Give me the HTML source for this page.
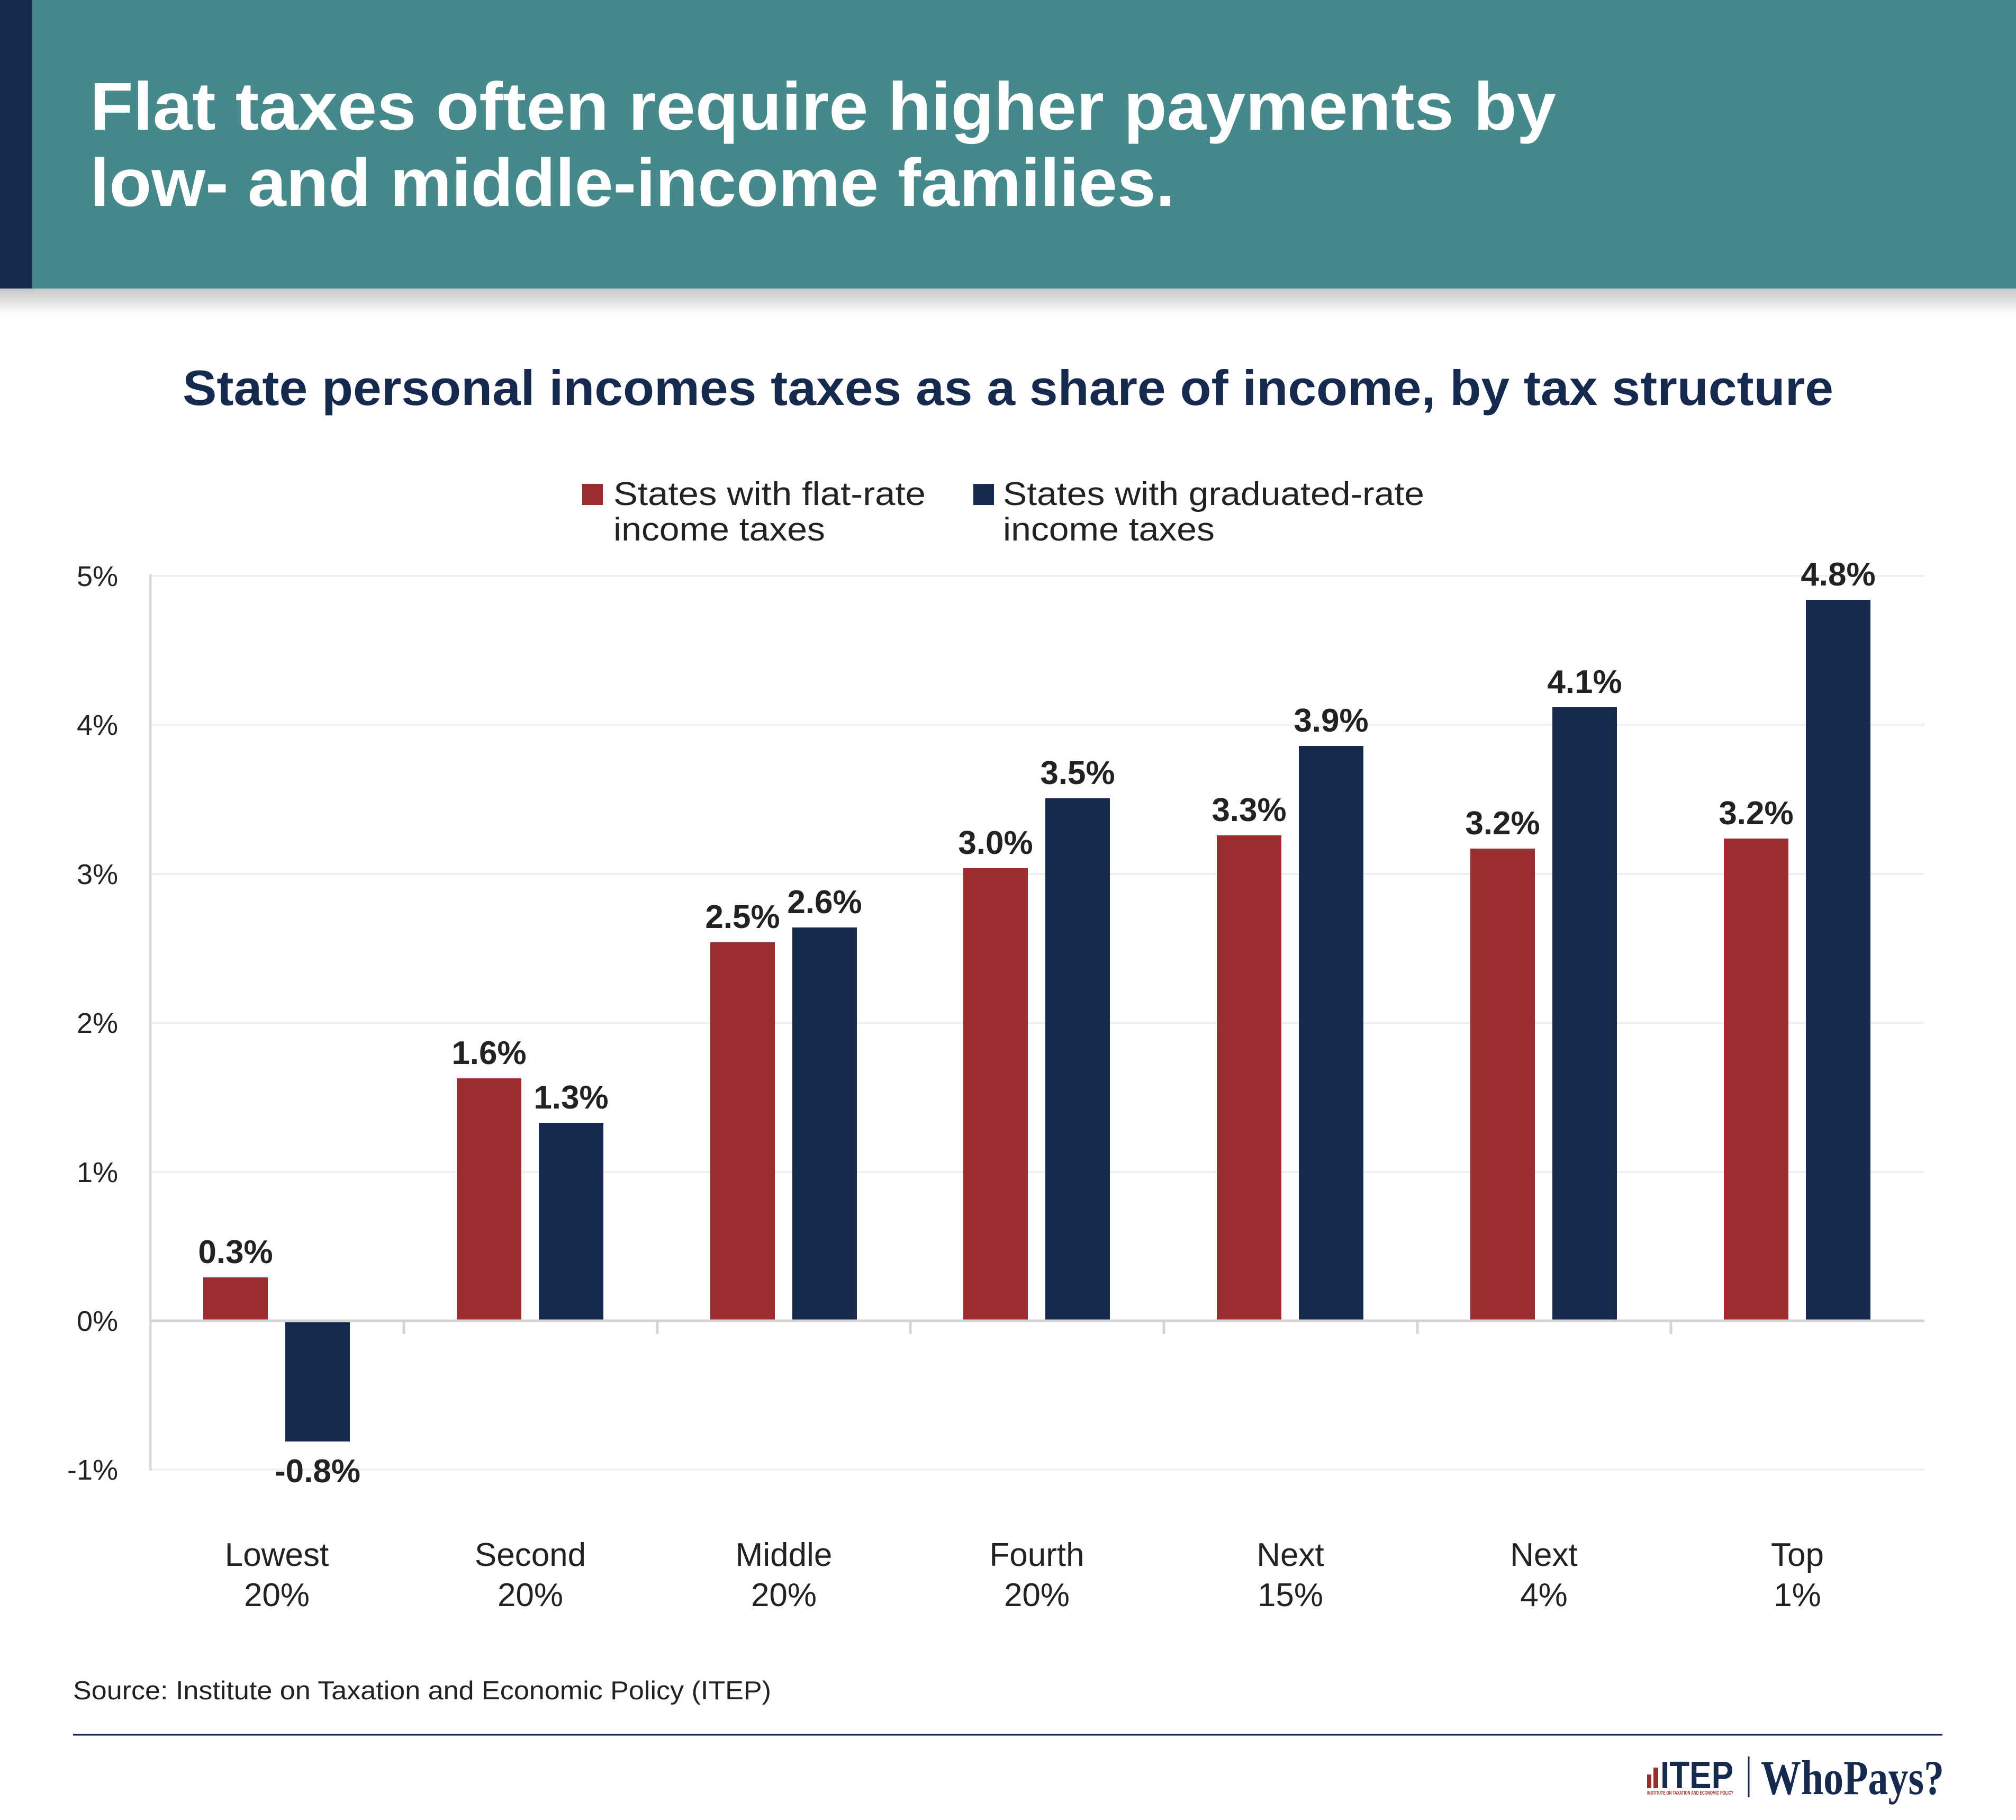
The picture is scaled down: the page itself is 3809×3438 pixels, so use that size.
<!DOCTYPE html>
<html><head><meta charset="utf-8"><style>
html,body{margin:0;padding:0;background:#fff;}
svg{display:block;}
</style></head><body>
<svg width="3809" height="3438" viewBox="0 0 3809 3438" xmlns="http://www.w3.org/2000/svg" font-family="Liberation Sans, Arial, sans-serif">
<defs>
<linearGradient id="sh" x1="0" y1="0" x2="0" y2="1">
<stop offset="0" stop-color="#000" stop-opacity="0.22"/>
<stop offset="1" stop-color="#000" stop-opacity="0"/>
</linearGradient>
</defs>
<rect x="0" y="0" width="3809" height="3438" fill="#fff"/>
<rect x="0" y="545" width="3809" height="50" fill="url(#sh)"/>
<rect x="0" y="0" width="3809" height="545" fill="#46898b"/>
<rect x="0" y="0" width="61" height="545" fill="#152a4e"/>
<text x="170" y="245" font-size="128" font-weight="bold" fill="#fff" textLength="2770" lengthAdjust="spacingAndGlyphs">Flat taxes often require higher payments by</text>
<text x="170" y="389" font-size="128" font-weight="bold" fill="#fff" textLength="2050" lengthAdjust="spacingAndGlyphs">low- and middle-income families.</text>
<text x="345" y="765" font-size="94" fill="#152a4e" font-weight="bold" textLength="3119" lengthAdjust="spacingAndGlyphs">State personal incomes taxes as a share of income, by tax structure</text>
<rect x="1100" y="914" width="39" height="40" fill="#9b2d2e"/>
<text x="1159" y="954" font-size="62" fill="#222" textLength="590" lengthAdjust="spacingAndGlyphs">States with flat-rate</text>
<text x="1159" y="1021" font-size="62" fill="#222" textLength="400" lengthAdjust="spacingAndGlyphs">income taxes</text>
<rect x="1839" y="914" width="39" height="40" fill="#152a4e"/>
<text x="1895" y="954" font-size="62" fill="#222" textLength="796" lengthAdjust="spacingAndGlyphs">States with graduated-rate</text>
<text x="1895" y="1021" font-size="62" fill="#222" textLength="400" lengthAdjust="spacingAndGlyphs">income taxes</text>
<g stroke="#efefef" stroke-width="4">
<line x1="284" y1="1088" x2="3636" y2="1088"/>
<line x1="284" y1="1369" x2="3636" y2="1369"/>
<line x1="284" y1="1651" x2="3636" y2="1651"/>
<line x1="284" y1="1932" x2="3636" y2="1932"/>
<line x1="284" y1="2214" x2="3636" y2="2214"/>
<line x1="284" y1="2776" x2="3636" y2="2776"/>
</g>
<line x1="284" y1="1085" x2="284" y2="2778" stroke="#dadada" stroke-width="5"/>
<g font-size="54" fill="#222" text-anchor="end">
<text x="223" y="1107">5%</text>
<text x="223" y="1388">4%</text>
<text x="223" y="1670">3%</text>
<text x="223" y="1951">2%</text>
<text x="223" y="2233">1%</text>
<text x="223" y="2514">0%</text>
<text x="223" y="2795">-1%</text>
</g>
<g fill="#9b2d2e">
<rect x="384" y="2413" width="122" height="82"/>
<rect x="863" y="2037" width="122" height="458"/>
<rect x="1342" y="1780" width="122" height="715"/>
<rect x="1820" y="1640" width="122" height="855"/>
<rect x="2299" y="1578" width="122" height="917"/>
<rect x="2778" y="1603" width="122" height="892"/>
<rect x="3257" y="1584" width="122" height="911"/>
</g>
<g fill="#152a4e">
<rect x="539" y="2495" width="122" height="228"/>
<rect x="1018" y="2121" width="122" height="374"/>
<rect x="1497" y="1752" width="122" height="743"/>
<rect x="1975" y="1508" width="122" height="987"/>
<rect x="2454" y="1409" width="122" height="1086"/>
<rect x="2933" y="1336" width="122" height="1159"/>
<rect x="3412" y="1133" width="122" height="1362"/>
</g>
<line x1="284" y1="2495" x2="3636" y2="2495" stroke="#d5d5d5" stroke-width="5"/>
<g stroke="#d5d5d5" stroke-width="5">
<line x1="763" y1="2495" x2="763" y2="2520"/>
<line x1="1242" y1="2495" x2="1242" y2="2520"/>
<line x1="1720" y1="2495" x2="1720" y2="2520"/>
<line x1="2199" y1="2495" x2="2199" y2="2520"/>
<line x1="2678" y1="2495" x2="2678" y2="2520"/>
<line x1="3157" y1="2495" x2="3157" y2="2520"/>
</g>
<g font-size="62" font-weight="bold" fill="#222" text-anchor="middle">
<text x="445" y="2386">0.3%</text>
<text x="924" y="2010">1.6%</text>
<text x="1403" y="1753">2.5%</text>
<text x="1881" y="1613">3.0%</text>
<text x="2360" y="1551">3.3%</text>
<text x="2839" y="1576">3.2%</text>
<text x="3318" y="1557">3.2%</text>
<text x="600" y="2800">-0.8%</text>
<text x="1079" y="2094">1.3%</text>
<text x="1558" y="1725">2.6%</text>
<text x="2036" y="1481">3.5%</text>
<text x="2515" y="1382">3.9%</text>
<text x="2994" y="1309">4.1%</text>
<text x="3473" y="1106">4.8%</text>
</g>
<g font-size="62" fill="#222" text-anchor="middle">
<text x="523" y="2958">Lowest</text><text x="523" y="3034">20%</text>
<text x="1002" y="2958">Second</text><text x="1002" y="3034">20%</text>
<text x="1481" y="2958">Middle</text><text x="1481" y="3034">20%</text>
<text x="1959" y="2958">Fourth</text><text x="1959" y="3034">20%</text>
<text x="2438" y="2958">Next</text><text x="2438" y="3034">15%</text>
<text x="2917" y="2958">Next</text><text x="2917" y="3034">4%</text>
<text x="3396" y="2958">Top</text><text x="3396" y="3034">1%</text>
</g>
<text x="138" y="3210" font-size="49" fill="#222" textLength="1319" lengthAdjust="spacingAndGlyphs">Source: Institute on Taxation and Economic Policy (ITEP)</text>
<line x1="138" y1="3277" x2="3670" y2="3277" stroke="#152a4e" stroke-width="3"/>
<rect x="3112" y="3352" width="8" height="26" fill="#9b2d2e"/>
<rect x="3124" y="3339" width="9" height="39" fill="#9b2d2e"/>
<text x="3137" y="3378" font-size="72" font-weight="bold" fill="#152a4e" textLength="138" lengthAdjust="spacingAndGlyphs">ITEP</text>
<text x="3112" y="3390" font-size="10" font-weight="bold" fill="#9b2d2e" textLength="163" lengthAdjust="spacingAndGlyphs">INSTITUTE ON TAXATION AND ECONOMIC POLICY</text>
<line x1="3304" y1="3318" x2="3304" y2="3395" stroke="#152a4e" stroke-width="3"/>
<text x="3327" y="3389" font-size="92" font-weight="bold" fill="#152a4e" font-family="Liberation Serif, serif" textLength="346" lengthAdjust="spacingAndGlyphs">WhoPays?</text>
</svg>
</body></html>
